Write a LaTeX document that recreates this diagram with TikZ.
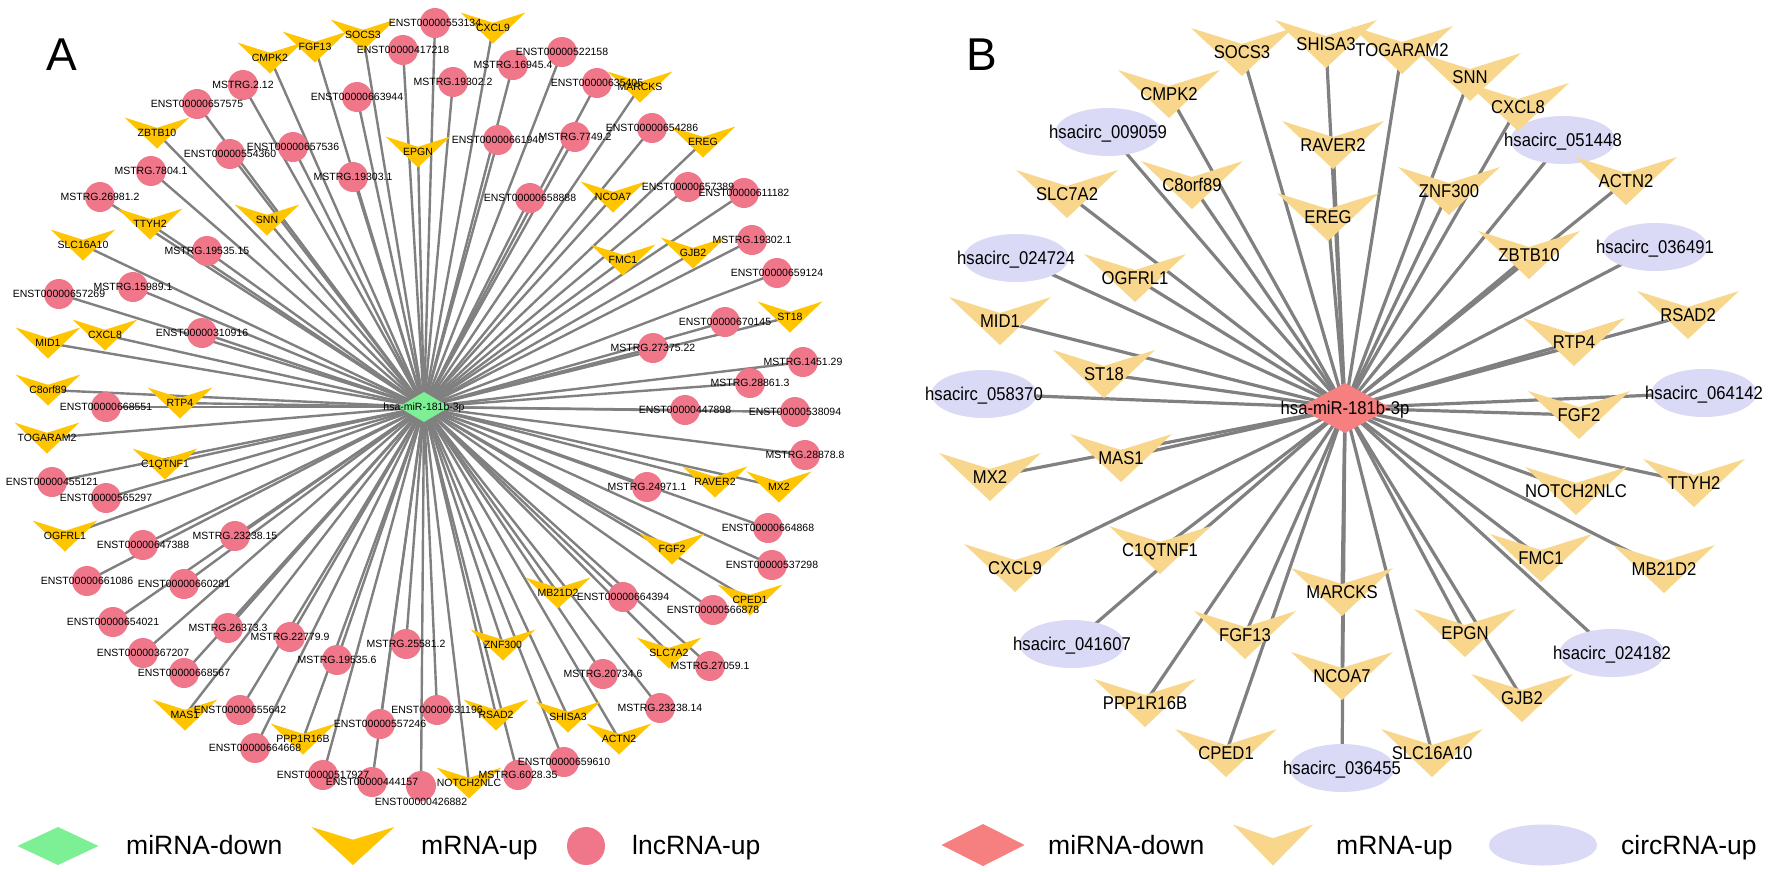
\documentclass[tikz,border=0pt]{standalone}
\usepackage{fontspec}
\setmainfont{Liberation Sans}
\newfontfamily\condfont{Liberation Sans}[FakeStretch=0.9]
\usetikzlibrary{shapes.geometric}
\definecolor{vAc}{RGB}{255,197,0}
\definecolor{cAc}{RGB}{240,118,138}
\definecolor{dAc}{RGB}{125,240,150}
\definecolor{vBc}{RGB}{248,215,140}
\definecolor{eBc}{RGB}{218,218,246}
\definecolor{dBc}{RGB}{246,128,128}
\definecolor{edgec}{RGB}{128,128,128}
\tikzset{
  veeA/.pic={\fill[vAc] (-32.5,-15.5) -- (0,-5.2) -- (32.5,-15.5) -- (0,15.5) -- cycle;},
  veeB/.pic={\fill[vBc] (-51,-24) -- (0,-8) -- (51,-24) -- (0,24) -- cycle;},
  diamA/.pic={\fill[dAc] (-25.5,0) -- (0,-15) -- (25.5,0) -- (0,15) -- cycle;},
  diamB/.pic={\fill[dBc] (-46,0) -- (0,-25) -- (46,0) -- (0,25) -- cycle;},
  circA/.style={circle, fill=cAc, minimum size=30pt, inner sep=0pt},
  ellB/.style={ellipse, fill=eBc, minimum width=105pt, minimum height=48pt, inner sep=0pt},
  edgeA/.style={draw=edgec, line width=2.4pt},
  edgeB/.style={draw=edgec, line width=3.2pt},
  lblA/.style={font=\fontsize{10.5}{12}\selectfont, inner sep=0pt, text height=7.5pt, text depth=0pt},
  lblB/.style={font=\condfont\fontsize{18.5}{20}\selectfont, inner sep=0pt, text height=13.2pt, text depth=0pt},
  lblL/.style={font=\fontsize{26.5}{30}\selectfont, inner sep=0pt, anchor=west, text height=19pt, text depth=0pt},
  panel/.style={font=\fontsize{46}{50}\selectfont, inner sep=0pt, text height=33pt, text depth=0pt},
}
\def\vAlist{a01/270/58/CMPK2, a02/315/47/FGF13, a03/363/35/SOCS3, a04/493/28/CXCL9,
a05/640/87/MARCKS, a06/157/133/ZBTB10, a07/418/152/EPGN, a08/703/142/EREG,
a09/613/197/NCOA7, a10/150/224/TTYH2, a11/267/220/SNN, a12/83/245/SLC16A10,
a13/623/260/FMC1, a14/693/253/GJB2, a15/790/317/ST18, a16/48/343/MID1,
a17/105/335/CXCL8, a18/48/390/C8orf89, a19/180/403/RTP4, a20/47/438/TOGARAM2,
a21/165/464/C1QTNF1, a22/715/482/RAVER2, a23/779/487/MX2, a24/65/536/OGFRL1,
a25/672/549/FGF2, a26/558/593/MB21D2, a27/750/600/CPED1, a28/503/645/ZNF300,
a29/669/653/SLC7A2, a30/185/715/MAS1, a31/496/715/RSAD2, a32/568/717/SHISA3,
a33/619/739/ACTN2, a34/303/739/PPP1R16B, a35/469/783/NOTCH2NLC}
\def\cAlist{c01/435/23/ENST00000553134, c02/403/50/ENST00000417218, c03/562/52/ENST00000522158,
c04/243/85/MSTRG.2.12, c05/453/82/MSTRG.19302.2, c06/513/65/MSTRG.16945.4,
c07/597/83/ENST00000635405, c08/197/104/ENST00000657575, c09/357/97/ENST00000663944,
c10/293/147/ENST00000657536, c11/230/154/ENST00000554360, c12/498/140/ENST00000661940,
c13/575/137/MSTRG.7749.2, c14/652/128/ENST00000654286, c15/151/171/MSTRG.7804.1,
c16/353/177/MSTRG.19303.1, c17/100/197/MSTRG.26981.2, c18/530/198/ENST00000658888,
c19/688/187/ENST00000657389, c20/744/193/ENST00000611182, c21/207/251/MSTRG.19535.15,
c22/752/240/MSTRG.19302.1, c23/133/287/MSTRG.15989.1, c24/59/294/ENST00000657269,
c25/777/273/ENST00000659124, c26/725/322/ENST00000670145, c27/202/333/ENST00000310916,
c28/653/348/MSTRG.27375.22, c29/803/362/MSTRG.1451.29, c30/750/383/MSTRG.28861.3,
c31/106/407/ENST00000668551, c32/795/412/ENST00000538094, c33/685/410/ENST00000447898,
c34/805/455/MSTRG.28878.8, c35/52/482/ENST00000455121, c36/106/498/ENST00000565297,
c37/647/487/MSTRG.24971.1, c38/768/528/ENST00000664868, c39/143/545/ENST00000647388,
c40/235/536/MSTRG.23238.15, c41/772/565/ENST00000537298, c42/87/581/ENST00000661086,
c43/184/584/ENST00000660281, c44/623/597/ENST00000664394, c45/713/610/ENST00000566878,
c46/113/622/ENST00000654021, c47/228/628/MSTRG.26373.3, c48/143/653/ENST00000367207,
c49/290/637/MSTRG.22779.9, c50/184/673/ENST00000668567, c51/337/660/MSTRG.19535.6,
c52/406/644/MSTRG.25581.2, c53/710/666/MSTRG.27059.1, c54/603/674/MSTRG.20734.6,
c55/240/710/ENST00000655642, c56/437/710/ENST00000631196, c57/660/708/MSTRG.23238.14,
c58/255/748/ENST00000664668, c59/380/724/ENST00000557246, c60/564/762/ENST00000659610,
c61/323/775/ENST00000517927, c62/372/782/ENST00000444157, c63/518/775/MSTRG.6028.35}
\def\vBlist{b01/1242/52/SOCS3, b02/1326/44/SHISA3, b03/1402/50/TOGARAM2, b04/1470/77/SNN,
b05/1518/107/CXCL8, b06/1169/94/CMPK2, b07/1333/145/RAVER2, b08/1626/181/ACTN2,
b09/1067/194/SLC7A2, b10/1192/185/C8orf89, b11/1328/217/EREG, b12/1449/191/ZNF300,
b13/1529/255/ZBTB10, b14/1135/278/OGFRL1, b15/1000/321/MID1, b16/1688/315/RSAD2,
b17/1574/342/RTP4, b18/1104/374/ST18, b19/1579/415/FGF2, b20/1121/458/MAS1,
b21/990/477/MX2, b22/1576/491/NOTCH2NLC, b23/1694/483/TTYH2, b24/1160/550/C1QTNF1,
b25/1015/568/CXCL9, b26/1541/558/FMC1, b27/1664/569/MB21D2, b28/1342/592/MARCKS,
b29/1245/635/FGF13, b30/1465/633/EPGN, b31/1342/676/NCOA7, b32/1522/698/GJB2,
b33/1145/703/PPP1R16B, b34/1226/753/CPED1, b35/1432/753/SLC16A10}
\def\eBlist{e1/1108/132/hsacirc\_009059, e2/1563/140/hsacirc\_051448, e3/1655/247/hsacirc\_036491,
e4/1016/258/hsacirc\_024724, e5/984/394/hsacirc\_058370, e6/1704/393/hsacirc\_064142,
e7/1072/644/hsacirc\_041607, e8/1612/653/hsacirc\_024182, e9/1342/768/hsacirc\_036455}
\begin{document}
\begin{tikzpicture}[x=1pt,y=-1pt]
\useasboundingbox (0,0) rectangle (1772,871);
\fill[white] (0,0) rectangle (1772,871);
% ---------- panel A ----------
\coordinate (hubA) at (424,407);
\foreach \n/\x/\y/\t in \vAlist {\coordinate (\n) at (\x,\y);}
\foreach \n/\x/\y/\t in \cAlist {\coordinate (\n) at (\x,\y);}
\coordinate (c64) at (421,786);
\foreach \n/\x/\y/\t in \vAlist {\draw[edgeA] (hubA) -- (\n);}
\foreach \n/\x/\y/\t in \cAlist {\draw[edgeA] (hubA) -- (\n);}
\draw[edgeA] (hubA) -- (c64);
\foreach \n/\x/\y/\t in \vAlist {\pic at (\n) {veeA};}
\foreach \n/\x/\y/\t in \cAlist {\node[circA] (\n-s) at (\n) {};}
\node[circA] (c64-s) at (c64) {};
\pic at (hubA) {diamA};
\foreach \n/\x/\y/\t in \vAlist {\node[lblA] (\n-l) at (\n) {\t};}
\foreach \n/\x/\y/\t in \cAlist {\node[lblA] (\n-l) at (\n) {\t};}
\node[lblA] (c64-l) at (421,802) {ENST00000426882};
\node[lblA] (hubA-l) at (hubA) {hsa-miR-181b-3p};
\node[panel] (labA) at (62,54) {A};
% ---------- panel B ----------
\coordinate (hubB) at (1345,408);
\foreach \n/\x/\y/\t in \vBlist {\coordinate (\n) at (\x,\y);}
\foreach \n/\x/\y/\t in \eBlist {\coordinate (\n) at (\x,\y);}
\foreach \n/\x/\y/\t in \vBlist {\draw[edgeB] (hubB) -- (\n);}
\foreach \n/\x/\y/\t in \eBlist {\draw[edgeB] (hubB) -- (\n);}
\foreach \n/\x/\y/\t in \eBlist {\node[ellB] (\n-s) at (\n) {};}
\foreach \n/\x/\y/\t in \vBlist {\pic at (\n) {veeB};}
\pic at (hubB) {diamB};
\foreach \n/\x/\y/\t in \vBlist {\node[lblB] (\n-l) at (\n) {\t};}
\foreach \n/\x/\y/\t in \eBlist {\node[lblB] (\n-l) at (\n) {\t};}
\node[lblB] (hubB-l) at (hubB) {hsa-miR-181b-3p};
\node[panel] (labB) at (982,54) {B};
% ---------- legends ----------
\fill[dAc, shift={(58,846)}] (-40.5,0) -- (0,-19) -- (40.5,0) -- (0,19) -- cycle;
\node[lblL] (lA1) at (126,845) {miRNA-down};
\fill[vAc, shift={(353,846)}] (-41.5,-19) -- (0,-6.3) -- (41.5,-19) -- (0,19) -- cycle;
\node[lblL] (lA2) at (421,845) {mRNA-up};
\node[circle, fill=cAc, minimum size=38pt, inner sep=0pt] (lA3s) at (586,846) {};
\node[lblL] (lA3) at (632,845) {lncRNA-up};
\fill[dBc, shift={(983,845)}] (-41.5,0) -- (0,-21) -- (41.5,0) -- (0,21) -- cycle;
\node[lblL] (lB1) at (1048,845) {miRNA-down};
\fill[vBc, shift={(1273,845)}] (-40,-20.5) -- (0,-6.8) -- (40,-20.5) -- (0,20.5) -- cycle;
\node[lblL] (lB2) at (1336,845) {mRNA-up};
\node[ellipse, fill=eBc, minimum width=108pt, minimum height=41pt, inner sep=0pt] (lB3s) at (1543,845) {};
\node[lblL] (lB3) at (1621,845) {circRNA-up};
\end{tikzpicture}
\end{document}
